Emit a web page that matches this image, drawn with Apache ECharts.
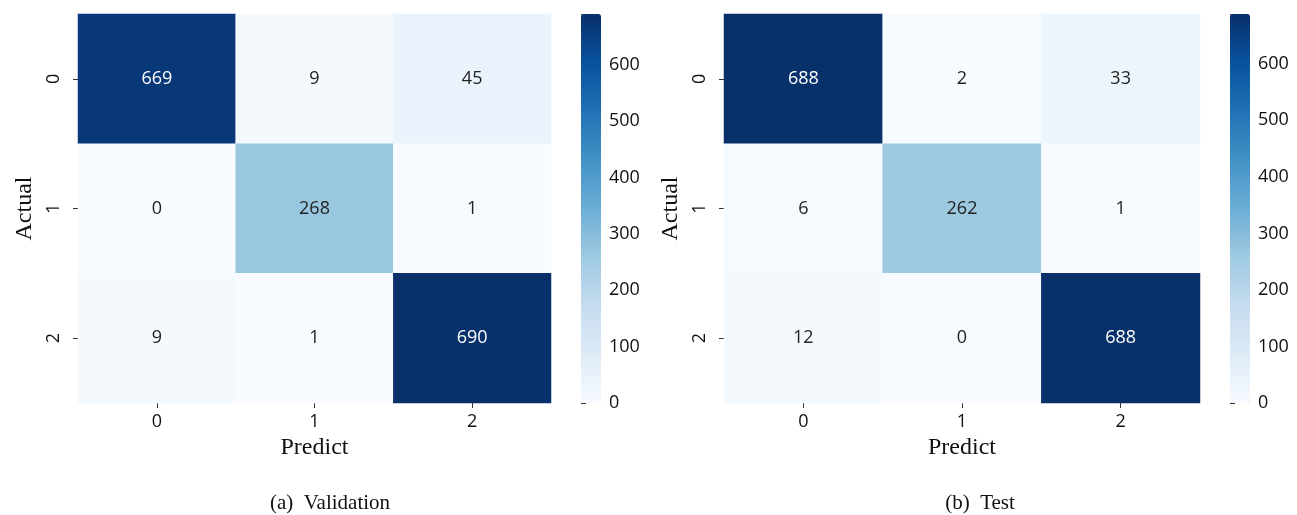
<!DOCTYPE html>
<html><head><meta charset="utf-8">
<script src="https://cdn.jsdelivr.net/npm/echarts@6/dist/echarts.min.js"></script>
<style>html,body{margin:0;padding:0;background:#fff}#c{width:1297px;height:515px}</style>
</head><body><div id="c"></div>
<script>
const predictLabels = ['0','1','2'];
const actualLabels = ['0','1','2'];
// rows = actual, cols = predict
const validationMatrix = [
  [669, 9, 45],
  [0, 268, 1],
  [9, 1, 690]
];
const testMatrix = [
  [688, 2, 33],
  [6, 262, 1],
  [12, 0, 688]
];
const colorbarTicks = [0,100,200,300,400,500,600];
const captions = ['(a)  Validation', '(b)  Test'];
const blues = ['#f7fbff','#deebf7','#c6dbef','#9ecae1','#6baed6','#4292c6','#2171b5','#08519c','#08306b'];

function toData(m){
  const out=[];
  m.forEach((row,r)=>row.forEach((v,c)=>out.push([c,r,v])));
  return out;
}
const vmax = [Math.max(...validationMatrix.flat()), Math.max(...testMatrix.flat())];

const tickFont = 'Open Sans';
const serif = 'Liberation Serif';
const panels = [
  {left:78, width:473, cbLeft:581, capCenter:330},
  {left:724, width:476, cbLeft:1230, capCenter:980}
];
const gTop=14, gHeight=389;

const grid=[], xAxis=[], yAxis=[], series=[], visualMap=[], graphic=[];
[validationMatrix,testMatrix].forEach((m,i)=>{
  const p=panels[i];
  grid.push({left:p.left, top:gTop, width:p.width, height:gHeight});
  grid.push({left:p.cbLeft, top:gTop, width:20, height:gHeight});
  xAxis.push({type:'category', gridIndex:2*i, data:predictLabels, name:'Predict', nameLocation:'middle', nameGap:30,
    nameTextStyle:{fontFamily:serif, fontSize:24, color:'#111'},
    axisLine:{show:false}, axisTick:{show:true, alignWithLabel:true, length:5, lineStyle:{color:'#333'}},
    axisLabel:{fontFamily:tickFont, fontSize:18, color:'#111', margin:10}, splitArea:{show:false}});
  yAxis.push({type:'category', gridIndex:2*i, data:actualLabels, inverse:true, name:'Actual', nameLocation:'middle', nameGap:41,
    nameTextStyle:{fontFamily:serif, fontSize:24, color:'#111'}, nameRotate:90,
    axisLine:{show:false}, axisTick:{show:true, alignWithLabel:true, length:5, lineStyle:{color:'#333'}},
    axisLabel:{fontFamily:tickFont, fontSize:18, color:'#111', rotate:90, margin:15}});
  xAxis.push({type:'value', gridIndex:2*i+1, show:false, min:0, max:1});
  yAxis.push({type:'value', gridIndex:2*i+1, position:'right', min:0, max:vmax[i], interval:100,
    axisLine:{show:false}, splitLine:{show:false},
    axisTick:{show:true, length:5, lineStyle:{color:'#333'}},
    axisLabel:{fontFamily:tickFont, fontSize:18, color:'#111', margin:8,
      formatter:v=>colorbarTicks.includes(v)?String(v):''}});
  series.push({type:'heatmap', xAxisIndex:2*i, yAxisIndex:2*i,
    data:toData(m).map(d=>({value:d, label:{color: d[2] > vmax[i]*0.6 ? '#ffffff' : '#222222'}})),
    label:{show:true, fontFamily:tickFont, fontSize:18, formatter:q=>String(q.value[2])},
    itemStyle:{borderWidth:0}, emphasis:{disabled:true}});
  visualMap.push({type:'continuous', seriesIndex:i, min:0, max:vmax[i], calculable:false, show:true,
    left:p.cbLeft, top:gTop, itemWidth:20, itemHeight:gHeight, padding:0, text:null, showLabel:false,
    inRange:{color:blues}});
  graphic.push({type:'text', x:p.capCenter, y:503, style:{text:captions[i], font:'21px "Liberation Serif"', fill:'#111', textAlign:'center', textVerticalAlign:'middle'}});
});
series.push({type:'scatter', xAxisIndex:1, yAxisIndex:1, data:[], silent:true});
series.push({type:'scatter', xAxisIndex:3, yAxisIndex:3, data:[], silent:true});

const chart = echarts.init(document.getElementById('c'), null, {renderer:'canvas'});
chart.setOption({animation:false, backgroundColor:'#fff', grid, xAxis, yAxis, series, visualMap, graphic});
</script></body></html>
